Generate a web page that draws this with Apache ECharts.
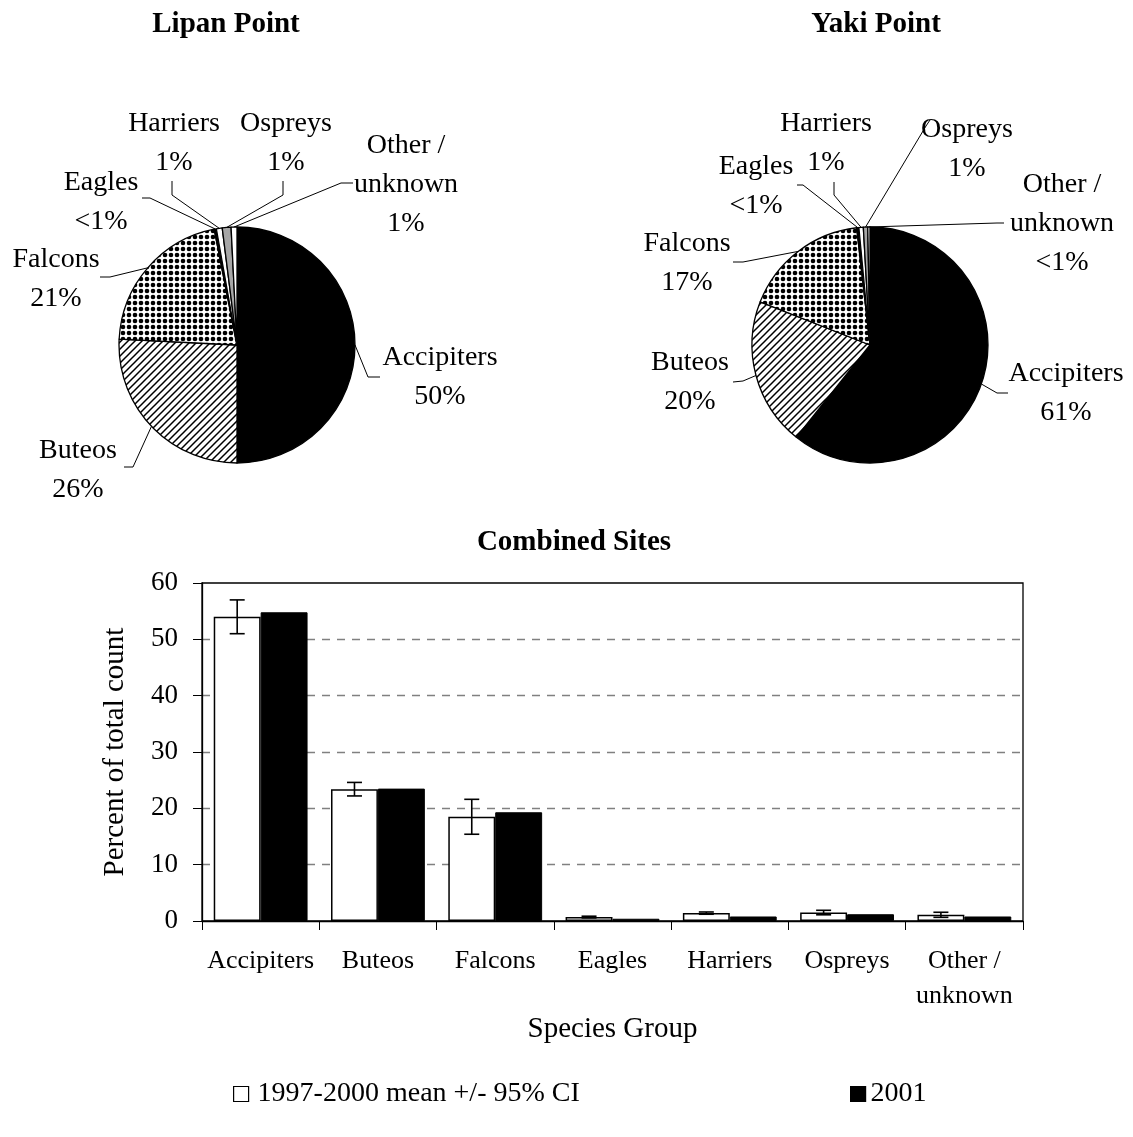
<!DOCTYPE html>
<html>
<head>
<meta charset="utf-8">
<script src="https://cdn.jsdelivr.net/npm/echarts@6/dist/echarts.min.js"></script>
<style>
  html, body { margin: 0; padding: 0; background: #fff; }
  #chart { width: 1133px; height: 1137px; }
</style>
</head>
<body>
<div id="chart"></div>
<script>
// Species groups, in pie/bar order
const groups = ['Accipiters', 'Buteos', 'Falcons', 'Eagles', 'Harriers', 'Ospreys', 'Other /\nunknown'];

// Share of 2001 count at each site (%)
const lipanPct = [50.0, 25.8, 21.1, 0.3, 0.8, 1.2, 0.8];
const yakiPct  = [60.6, 20.2, 17.2, 0.3, 0.6, 0.6, 0.3];

// Combined sites (% of total count)
const mean9700 = [54.0, 23.4, 18.5, 0.7, 1.4, 1.5, 1.1];   // 1997-2000 mean
const ci9700   = [3.0, 1.2, 3.1, 0.15, 0.2, 0.4, 0.45];    // 95% CI half-width
const pct2001  = [54.8, 23.5, 19.3, 0.4, 0.8, 1.2, 0.8];

const seriesNames = ['1997-2000 mean +/- 95% CI', '2001'];

const FONT = '"Liberation Serif", "Times New Roman", serif';

// ---- fill patterns ----
function makeHatch() {
  const s = 7, c = document.createElement('canvas');
  c.width = c.height = s;
  const g = c.getContext('2d');
  g.fillStyle = '#fff'; g.fillRect(0, 0, s, s);
  g.strokeStyle = '#000'; g.lineWidth = 1.5;
  g.beginPath();
  g.moveTo(-1, s + 1); g.lineTo(s + 1, -1);
  g.moveTo(-2, 2); g.lineTo(2, -2);
  g.moveTo(s - 2, s + 2); g.lineTo(s + 2, s - 2);
  g.stroke();
  return c;
}
function makeDots() {
  const s = 6, c = document.createElement('canvas');
  c.width = c.height = s;
  const g = c.getContext('2d');
  g.fillStyle = '#fff'; g.fillRect(0, 0, s, s);
  g.fillStyle = '#000';
  g.beginPath(); g.arc(s / 2, s / 2, 2.3, 0, Math.PI * 2); g.fill();
  return c;
}
const fills = [
  '#000',
  { image: makeHatch(), repeat: 'repeat' },
  { image: makeDots(), repeat: 'repeat' },
  '#000',
  '#fff',
  '#a6a6a6',
  '#fff'
];

function pctText(v) { return v < 0.5 ? '<1%' : Math.round(v) + '%'; }

// label block centre (c), leader bend (b) and leader end (e), in px
const lipanLabels = [
  { c: [440, 377], b: [368, 377], e: [380, 377] },
  { c: [78, 470],  b: [133, 467], e: [124, 467] },
  { c: [56, 279],  b: [110, 277], e: [100, 277] },
  { c: [101, 202], b: [150, 198], e: [142, 198] },
  { c: [174, 143], b: [172, 195], e: [172, 181] },
  { c: [286, 143], b: [283, 195], e: [283, 181] },
  { c: [406, 185], b: [341, 183], e: [353, 183] }
];
const yakiLabels = [
  { c: [1066, 393], b: [997, 393], e: [1008, 393] },
  { c: [690, 382],  b: [743, 381], e: [733, 382] },
  { c: [687, 263],  b: [743, 262], e: [733, 262] },
  { c: [756, 186],  b: [803, 185], e: [797, 185] },
  { c: [826, 143],  b: [834, 195], e: [834, 182] },
  { c: [967, 149],  b: [926, 126], e: [930, 120] },
  { c: [1062, 224], b: [997, 223], e: [1004, 223] }
];

function pieSeries(name, values, center, layout) {
  return {
    type: 'pie',
    name: name,
    center: center,
    radius: 118,
    startAngle: 90,
    clockwise: true,
    avoidLabelOverlap: false,
    animation: false,
    data: values.map((v, i) => ({ name: groups[i], value: v, itemStyle: { color: fills[i] } })),
    itemStyle: { borderColor: '#000', borderWidth: 1.3 },
    emphasis: { disabled: true },
    label: {
      show: true,
      position: 'outside',
      formatter: p => groups[p.dataIndex] + '\n' + pctText(p.value),
      fontFamily: FONT,
      fontSize: 28,
      lineHeight: 39,
      color: '#000',
      align: 'center'
    },
    labelLine: { show: true, length: 10, length2: 10, lineStyle: { color: '#000', width: 1 } },
    labelLayout: function (params) {
      const L = layout[params.dataIndex];
      const anchor = params.labelLinePoints ? params.labelLinePoints[0] : L.b;
      return {
        x: L.c[0], y: L.c[1],
        align: 'center', verticalAlign: 'middle',
        labelLinePoints: [anchor, L.b, L.e]
      };
    }
  };
}

const chart = echarts.init(document.getElementById('chart'), null, { renderer: 'canvas' });

const titleStyle = { fontFamily: FONT, fontSize: 29, fontWeight: 'bold', fill: '#000', align: 'center', verticalAlign: 'middle' };

const option = {
  animation: false,
  backgroundColor: '#fff',
  graphic: [
    { type: 'text', x: 226, y: 25, style: Object.assign({ text: 'Lipan Point' }, titleStyle) },
    { type: 'text', x: 876, y: 25, style: Object.assign({ text: 'Yaki Point' }, titleStyle) },
    { type: 'text', x: 574, y: 543, style: Object.assign({ text: 'Combined Sites' }, titleStyle) }
  ],
  legend: [
    {
      data: [seriesNames[0]], left: 228, top: 1075, icon: 'rect', itemWidth: 15, itemHeight: 15, itemGap: 10,
      itemStyle: { borderColor: '#000', borderWidth: 1.2 },
      textStyle: { fontFamily: FONT, fontSize: 28, color: '#000', padding: [0, 0, 0, 4] }, selectedMode: false
    },
    {
      data: [seriesNames[1]], left: 845, top: 1075, icon: 'rect', itemWidth: 15, itemHeight: 15,
      itemStyle: { borderColor: '#000', borderWidth: 1.2 },
      textStyle: { fontFamily: FONT, fontSize: 28, color: '#000' }, selectedMode: false
    }
  ],
  grid: {
    left: 202, top: 583, width: 821, height: 338,
    show: true, borderColor: '#000', borderWidth: 1.3, backgroundColor: 'transparent',
    containLabel: false, outerBoundsMode: 'none'
  },
  xAxis: {
    type: 'category',
    data: groups,
    axisLine: { show: true, lineStyle: { color: '#000', width: 1.3 } },
    axisTick: { show: true, length: 9, lineStyle: { color: '#000', width: 1 } },
    axisLabel: { interval: 0, fontFamily: FONT, fontSize: 26, color: '#000', margin: 23, lineHeight: 35 },
    splitLine: { show: false },
    name: 'Species Group',
    nameLocation: 'middle',
    nameGap: 94,
    nameTextStyle: { fontFamily: FONT, fontSize: 29, color: '#000' }
  },
  yAxis: {
    type: 'value',
    min: 0, max: 60, interval: 10,
    axisLine: { show: true, lineStyle: { color: '#000', width: 1.3 } },
    axisTick: { show: true, length: 9, lineStyle: { color: '#000', width: 1 } },
    axisLabel: { fontFamily: FONT, fontSize: 27, color: '#000', margin: 24 },
    splitLine: { show: true, showMinLine: false, showMaxLine: false, lineStyle: { color: '#808080', type: [8, 7], width: 1.3 } },
    name: 'Percent of total count',
    nameLocation: 'middle',
    nameGap: 72,
    nameTextStyle: { fontFamily: FONT, fontSize: 29, color: '#000' }
  },
  series: [
    pieSeries('Lipan Point', lipanPct, [237, 345], lipanLabels),
    pieSeries('Yaki Point', yakiPct, [870, 345], yakiLabels),
    {
      type: 'bar',
      name: seriesNames[0],
      data: mean9700,
      barGap: '0%',
      barCategoryGap: '20%',
      itemStyle: { color: '#fff', borderColor: '#000', borderWidth: 1.5 },
      emphasis: { disabled: true }
    },
    {
      type: 'bar',
      name: seriesNames[1],
      data: pct2001,
      barGap: '0%',
      barCategoryGap: '20%',
      itemStyle: { color: '#000', borderColor: '#000', borderWidth: 1 },
      emphasis: { disabled: true }
    },
    {
      // 95% CI whiskers on the 1997-2000 bars
      type: 'custom',
      name: 'ci',
      z: 10,
      data: mean9700.map((m, i) => [i, m - ci9700[i], m + ci9700[i]]),
      encode: { x: 0, y: [1, 2] },
      renderItem: function (params, api) {
        const i = api.value(0);
        const lo = api.coord([i, api.value(1)]);
        const hi = api.coord([i, api.value(2)]);
        const catW = api.size([1, 0])[0];
        const barW = catW * 0.8 / 2;
        const x = lo[0] - barW / 2;
        const cap = 7.5;
        const st = { stroke: '#000', lineWidth: 1.6 };
        return {
          type: 'group',
          children: [
            { type: 'line', shape: { x1: x, y1: lo[1], x2: x, y2: hi[1] }, style: st },
            { type: 'line', shape: { x1: x - cap, y1: lo[1], x2: x + cap, y2: lo[1] }, style: st },
            { type: 'line', shape: { x1: x - cap, y1: hi[1], x2: x + cap, y2: hi[1] }, style: st }
          ]
        };
      }
    }
  ]
};

chart.setOption(option);
</script>
</body>
</html>
